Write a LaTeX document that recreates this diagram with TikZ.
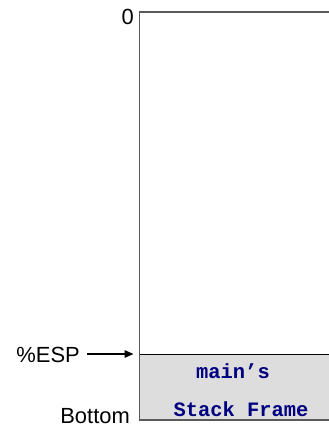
\documentclass[tikz,border=0pt]{standalone}
\usepackage{fontspec}
\setmainfont{Liberation Sans}
\newfontfamily\codefont{Liberation Mono}
\usepackage{tikz}
\usetikzlibrary{arrows.meta}
\definecolor{framefill}{RGB}{221,221,221}
\definecolor{boxline}{RGB}{90,90,90}
\definecolor{codeblue}{RGB}{0,0,128}
\newcommand{\CODE}[1]{{\codefont\bfseries\textcolor{codeblue}{#1}}}

\begin{document}
\begin{tikzpicture}[x=1bp,y=-1bp]
    \useasboundingbox (0,0) rectangle (329,429);

    \coordinate (top) at (139.5,12);
    \coordinate (esp) at (139.5,354);
    \coordinate (bot) at (139.5,420);

    % main's frame at the bottom of the stack
    \fill[framefill] (esp) rectangle (329,420);
    \draw[boxline,line width=1.2bp] (329,12) -- (top) -- (bot) -- (329,420);
    \draw[black,line width=1bp] (esp) -- (329,354);

    \node[inner sep=0pt,font=\fontsize{20.5}{22}\selectfont] (frameA) at (233,371) {\CODE{main’s}};
    \node[inner sep=0pt,font=\fontsize{20.5}{22}\selectfont] (frameB) at (241,409.5) {\CODE{Stack Frame}};

    \node[inner sep=0pt,anchor=east,font=\fontsize{22}{24}\selectfont] (zero) at (134,16.5) {0};
    \node[inner sep=0pt,anchor=east,font=\fontsize{22}{24}\selectfont] (bottom) at (130,416.5) {Bottom};
    \node[inner sep=0pt,anchor=east,font=\fontsize{22}{24}\selectfont] (espl) at (80,354.5) {\%ESP};

    \coordinate (espstart) at (87,354);
    \coordinate (esptip) at (133.5,354);
    \draw[line width=1.5bp,-{Triangle[length=9bp,width=7.5bp]}] (espstart) -- (esptip);
\end{tikzpicture}
\end{document}
